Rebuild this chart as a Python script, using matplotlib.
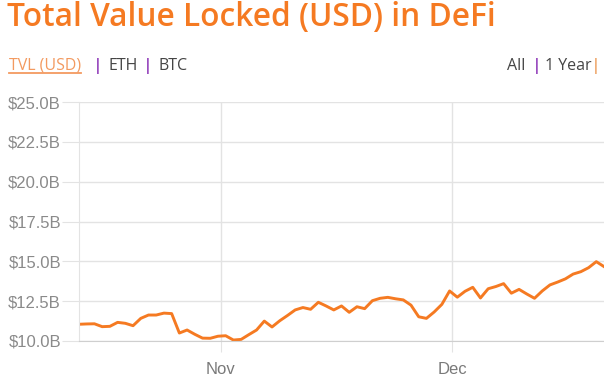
import matplotlib
matplotlib.use("Agg")
import matplotlib.pyplot as plt
import pandas as pd

# ─── Data (daily TVL, billions USD) ───────────────────────────
start_date = "2020-10-13 15:00"
tvl_billions = [
    11.05, 11.07, 11.08, 10.90, 10.92, 11.17, 11.11, 10.96, 11.42, 11.63,
    11.63, 11.75, 11.72, 10.50, 10.69, 10.42, 10.18, 10.17, 10.30, 10.33,
    10.06, 10.10, 10.40, 10.69, 11.25, 10.88, 11.27, 11.60, 11.95, 12.10,
    11.99, 12.43, 12.20, 11.95, 12.20, 11.80, 12.15, 12.03, 12.53, 12.68,
    12.74, 12.65, 12.58, 12.25, 11.52, 11.42, 11.82, 12.30, 13.14, 12.75,
    13.12, 13.37, 12.70, 13.28, 13.42, 13.60, 13.00, 13.24, 12.95, 12.68,
    13.14, 13.52, 13.70, 13.90, 14.20, 14.35, 14.60, 14.98, 14.67,
]
dates = pd.date_range(start_date, periods=len(tvl_billions), freq="D")

y_ticks = [10.0, 12.5, 15.0, 17.5, 20.0, 22.5, 25.0]
x_ticks = [pd.Timestamp("2020-11-01"), pd.Timestamp("2020-12-01")]
x_labels = ["Nov", "Dec"]

ORANGE = "#f57a22"
GRID = "#e3e3e3"
LABEL = "#8a8a8a"
PURPLE = "#9b4fc0"

W, H = 604, 379
fig = plt.figure(figsize=(W / 100, H / 100), dpi=100)
ax = fig.add_axes([79 / W, (H - 341) / H, (W - 79) / W, 239 / H])

ax.plot(dates, tvl_billions, color=ORANGE, linewidth=2.1, solid_joinstyle="round")

ax.set_ylim(10.0, 25.0)
ax.set_xlim(dates[0], dates[-1])
ax.set_yticks(y_ticks)
ax.set_yticklabels([f"${v:.1f}B" for v in y_ticks])
ax.set_xticks(x_ticks)
ax.set_xticklabels(x_labels)

ax.grid(True, color=GRID, linewidth=1.0)
ax.set_axisbelow(True)
for side in ("top", "right"):
    ax.spines[side].set_visible(False)
ax.spines["left"].set_color(GRID)
ax.spines["bottom"].set_color("#cfcfcf")
ax.tick_params(axis="y", length=12, color=GRID, pad=1, labelsize=12, labelcolor=LABEL)
ax.tick_params(axis="x", length=8, color=GRID, pad=7, labelsize=12, labelcolor="#7a7a7a")
for lbl in ax.get_xticklabels() + ax.get_yticklabels():
    lbl.set_family("Liberation Sans")

# ─── Header texts ─────────────────────────────────────────────
fig.text(7 / W, 1 - 26 / H, "Total Value Locked (USD) in DeFi", color=ORANGE,
         fontsize=22.8, fontweight="semibold", family="Open Sans", va="baseline")

sub_y = 1 - 70 / H
sub_font = dict(fontsize=11.5, family="Open Sans", fontweight="medium", va="baseline")
tvl_txt = fig.text(9 / W, sub_y, "TVL (USD)", color="#f39a60", **sub_font)
for x, txt, col in [(109, "ETH", "#454545"), (158, "BTC", "#454545"),
                    (507, "All", "#454545"), (545, "1 Year", "#454545")]:
    fig.text(x / W, sub_y, txt, color=col, **sub_font)
for x, col in [(95, PURPLE), (145, PURPLE), (534, PURPLE), (593, "#f0b07a")]:
    fig.text(x / W, sub_y, "|", color=col, fontsize=11.5, family="DejaVu Sans",
             fontweight="bold", va="baseline")

# underline spanning the active tab label
fig.canvas.draw()
bb = tvl_txt.get_window_extent().transformed(fig.transFigure.inverted())
fig.add_artist(plt.Line2D([bb.x0, bb.x1], [1 - 73 / H] * 2, color="#f39a60", linewidth=1.3))

fig.savefig("out.png", dpi=100)
